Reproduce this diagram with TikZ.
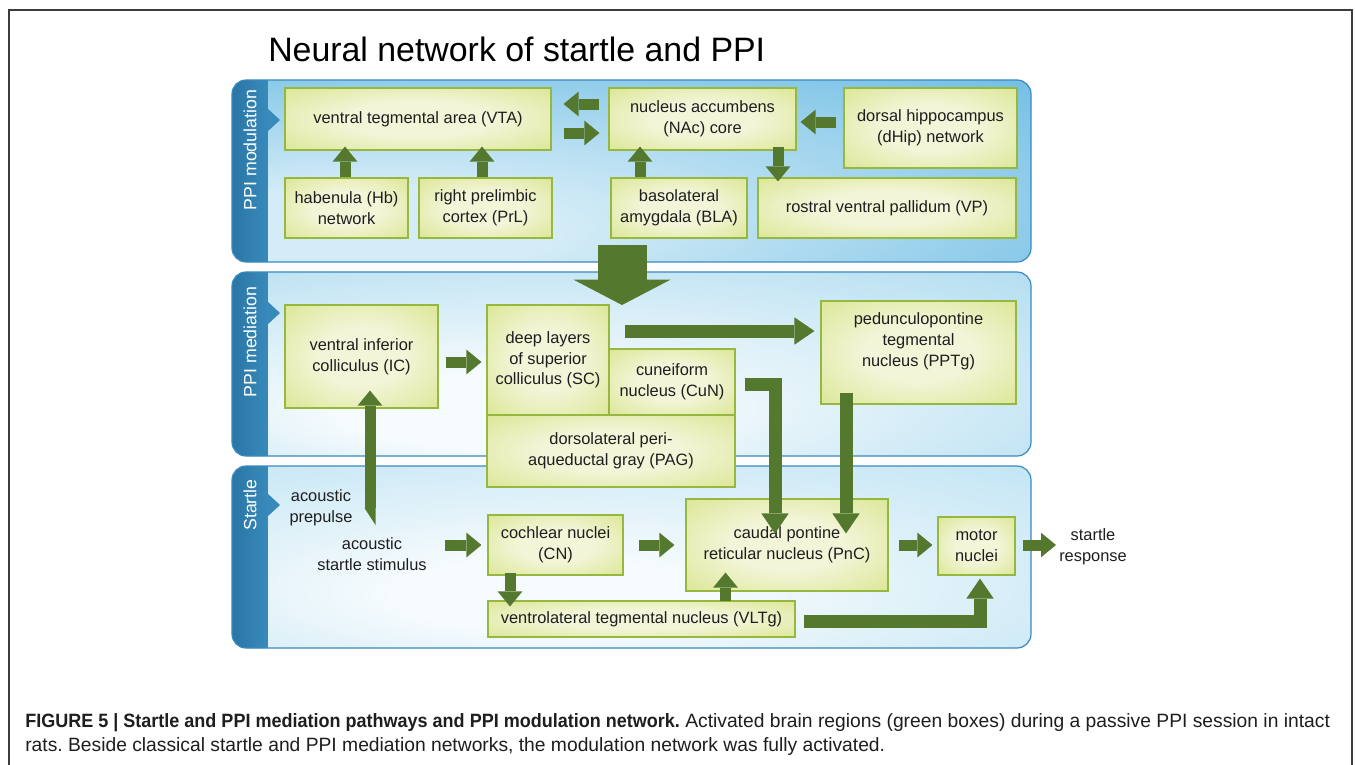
\documentclass[tikz,border=0pt]{standalone}
\usepackage{fontspec}
\setmainfont{Liberation Sans}
\newfontfamily\capbold[FakeStretch=0.935]{Liberation Sans}
\usetikzlibrary{arrows.meta,calc}
\frenchspacing
\definecolor{agreen}{RGB}{84,121,46}
\definecolor{gIn}{RGB}{243,245,216}
\definecolor{gOut}{RGB}{204,221,108}
\definecolor{gBorder}{RGB}{150,184,62}
\definecolor{pBorder}{RGB}{58,138,192}
\definecolor{band}{RGB}{56,138,186}
\definecolor{bandDark}{RGB}{42,118,166}
\definecolor{p1In}{RGB}{212,236,247}
\definecolor{p1Out}{RGB}{54,162,217}
\definecolor{p2In}{RGB}{246,251,253}
\definecolor{p2Out}{RGB}{128,199,231}
\definecolor{p3In}{RGB}{246,251,253}
\definecolor{p3Out}{RGB}{148,209,236}
\definecolor{frameGray}{RGB}{60,60,60}
\definecolor{capText}{RGB}{30,30,30}
\pgfdeclareradialshading{gboxshade}{\pgfpoint{0bp}{0bp}}{color(0bp)=(gIn); color(14bp)=(gIn); color(50bp)=(gOut)}
\pgfdeclareradialshading{pAshade}{\pgfpoint{-22bp}{-20bp}}{color(0bp)=(p1In); color(12bp)=(p1In); color(66bp)=(p1Out)}
\pgfdeclareradialshading{pBshade}{\pgfpoint{-12bp}{-15bp}}{color(0bp)=(p2In); color(10bp)=(p2In); color(68bp)=(p2Out)}
\pgfdeclareradialshading{pCshade}{\pgfpoint{-8bp}{-12bp}}{color(0bp)=(p3In); color(10bp)=(p3In); color(70bp)=(p3Out)}
\newcommand{\boxfont}{\fontsize{12.3pt}{15.5pt}\selectfont}
\newcommand{\gbox}[6]{\node[gbox, minimum width={(#4-#2)*0.75pt}, minimum height={(#5-#3)*0.75pt}] (#1) at ({(#2+#4)/2},{(#3+#5)/2}) {#6};}
\tikzset{
  gbox/.style={draw=gBorder, line width=0.8pt, shade, shading=gboxshade, align=center, inner sep=0pt, font=\boxfont, text=capText},
  sarr/.style={draw=agreen, line width=8.25pt, line join=miter, -{Triangle[length=11.25pt 0, width=18.5pt 0, line width=0pt]}},
  tarr/.style={draw=agreen, line width=9.75pt, line join=miter, -{Triangle[length=15pt 0, width=20.5pt 0, line width=0pt]}},
  bigarr/.style={draw=agreen, line width=36.75pt, -{Triangle[length=19pt 0, width=72.75pt 0, line width=0pt]}},
  plabel/.style={rotate=90, text=white, font=\fontsize{13.3pt}{15pt}\selectfont, inner sep=0pt},
  ptext/.style={align=center, font=\boxfont, text=capText, inner sep=0pt},
  pborder/.style={draw=pBorder, line width=0.9pt, rounded corners=10.5pt}
}
\begin{document}
\begin{tikzpicture}[x=0.75pt, y=-0.75pt]
\useasboundingbox (0,0) rectangle (1355,764);
\fill[white] (0,0) rectangle (1355,764);
% frame
\draw[frameGray, line width=0.9pt] (9,780) -- (9,10) -- (1352,10) -- (1352,780);
% title
\node[anchor=base west, inner sep=0pt, font=\fontsize{25.4pt}{30pt}\selectfont] (title) at (268,61) {Neural network of startle and PPI};

% panel 1
\begin{scope}
\clip[rounded corners=10.5pt] (232,80) rectangle (1031,262);
\shade[left color=bandDark, right color=band] (232,80) rectangle (268,262);
\shade[shading=pAshade] (268,80) rectangle (1031,262);
\end{scope}
\fill[band] (267,108) -- (280,120) -- (267,132) -- cycle;
\draw[pborder] (232,80) rectangle (1031,262);
\node[plabel] (lab1) at (250,150) {PPI modulation};

% panel 2
\begin{scope}
\clip[rounded corners=10.5pt] (232,272) rectangle (1031,456);
\shade[left color=bandDark, right color=band] (232,272) rectangle (268,456);
\shade[shading=pBshade] (268,272) rectangle (1031,456);
\end{scope}
\fill[band] (267,301) -- (280,313) -- (267,325) -- cycle;
\draw[pborder] (232,272) rectangle (1031,456);
\node[plabel] (lab2) at (250,342) {PPI mediation};

% panel 3
\begin{scope}
\clip[rounded corners=10.5pt] (232,466) rectangle (1031,648);
\shade[left color=bandDark, right color=band] (232,466) rectangle (268,648);
\shade[shading=pCshade] (268,466) rectangle (1031,648);
\end{scope}
\fill[band] (267,493) -- (280,505) -- (267,517) -- cycle;
\draw[pborder] (232,466) rectangle (1031,648);
\node[plabel] (lab3) at (250,505) {Startle};

% boxes
\gbox{vta}{285}{88}{551}{150}{ventral tegmental area (VTA)}
\gbox{hb}{285}{178}{408}{238}{habenula (Hb)\\network}
\gbox{prl}{419}{178}{552}{238}{right prelimbic\\cortex (PrL)}
\gbox{nac}{609}{88}{796}{150}{nucleus accumbens\\(NAc) core}
\gbox{dhip}{844}{88}{1017}{168}{dorsal hippocampus\\(dHip) network}
\gbox{bla}{611}{178}{747}{238}{basolateral\\amygdala (BLA)}
\gbox{vp}{758}{178}{1016}{238}{rostral ventral pallidum (VP)}
\gbox{ic}{285}{305}{438}{408}{ventral inferior\\colliculus (IC)}
\gbox{sc}{487}{305}{609}{415}{deep layers\\of superior\\colliculus (SC)}
\gbox{cun}{609}{349}{735}{415}{cuneiform\\nucleus (CuN)}
\gbox{pag}{487}{415}{735}{487}{dorsolateral peri-\\aqueductal gray (PAG)}
\gbox{pptg}{821}{301}{1016}{404}{pedunculopontine\\tegmental\\nucleus (PPTg)\\[4pt]}
\gbox{cn}{488}{515}{623}{575}{cochlear nuclei\\(CN)}
\gbox{vltg}{488}{601}{795}{637}{ventrolateral tegmental nucleus (VLTg)}
\gbox{pnc}{686}{499}{888}{591}{caudal pontine\\reticular nucleus (PnC)}
\gbox{motor}{938}{517}{1015}{575}{motor\\nuclei}

% free text
\node[ptext] (prepulse) at (321,508) {acoustic\\prepulse};
\node[ptext] (stim) at (372,554) {acoustic\\startle stimulus};
\node[ptext] (resp) at (1093,547) {startle\\response};
\coordinate (ppS) at (370,508);
\coordinate (bigS) at (622,245);
\coordinate (bigE) at (622,305);

% arrows panel 1
\draw[sarr] ([shift={(-9,-15)}]nac.west) -- ([shift={(12,-15)}]vta.east);
\draw[sarr] ([shift={(12,14)}]vta.east) -- ([shift={(-9,14)}]nac.west);
\draw[sarr] ([shift={(-7,-6)}]dhip.west) -- ([shift={(4,3)}]nac.east);
\draw[sarr] ([shift={(-1.5,0)}]hb.north) -- ([shift={(-73,-4)}]vta.south);
\draw[sarr] ([shift={(-3.5,0)}]prl.north) -- ([shift={(64,-4)}]vta.south);
\draw[sarr] ([shift={(-39,0)}]bla.north) -- ([shift={(-62.5,-4)}]nac.south);
\draw[sarr] ([shift={(75.5,-4)}]nac.south) -- ([shift={(-109,4)}]vp.north);
% big arrow
\draw[bigarr] (bigS) -- (bigE);
% arrows panel 2
\draw[sarr] ([shift={(7,5.5)}]ic.east) -- ([shift={(-5,2)}]sc.west);
\draw[tarr] ([shift={(15,-29)}]sc.east) -- ([shift={(-6,-21.5)}]pptg.west);
\draw[tarr] ([shift={(9,2)}]cun.east) -| ([shift={(-12,35)}]pnc.north);
\draw[tarr] ([shift={(-72.5,-12)}]pptg.south) -- ([shift={(59,35)}]pnc.north);
% arrows panel 3
\fill[agreen] ([shift={(-5.5,0)}]ppS) -- ([shift={(5.5,0)}]ppS) -- ([shift={(5.5,17)}]ppS) -- cycle;
\draw[sarr] (ppS) -- ([shift={(8.5,-18)}]ic.south);
\draw[sarr] ($(stim.east |- cn.west)+(18,0)$) -- ([shift={(-6,0)}]cn.west);
\draw[sarr] ([shift={(-45.5,-3)}]cn.south) -- ([shift={(-131.5,6)}]vltg.north);
\draw[sarr] ([shift={(15,0)}]cn.east) -- ([shift={(-11,0)}]pnc.west);
\draw[sarr] ([shift={(84,1)}]vltg.north) -- ([shift={(-61.5,-19)}]pnc.south);
\draw[sarr] ([shift={(10,0)}]pnc.east) -- ([shift={(-5,-1)}]motor.west);
\draw[sarr] ([shift={(7,-1)}]motor.east) -- ($(resp.west)+(-3,-2)$);
\draw[tarr] ([shift={(8,2)}]vltg.east) -| ([shift={(3.5,3)}]motor.south);

% caption
\node[anchor=base west, inner sep=0pt, text=capText, font=\fontsize{14.45pt}{17pt}\selectfont] (cap1) at (25,727) {{\capbold\bfseries FIGURE 5 | Startle and PPI mediation pathways and PPI modulation network.} Activated brain regions (green boxes) during a passive PPI session in intact};
\node[anchor=base west, inner sep=0pt, text=capText, font=\fontsize{14.45pt}{17pt}\selectfont] (cap2) at (25,751) {rats. Beside classical startle and PPI mediation networks, the modulation network was fully activated.};
\end{tikzpicture}
\end{document}
